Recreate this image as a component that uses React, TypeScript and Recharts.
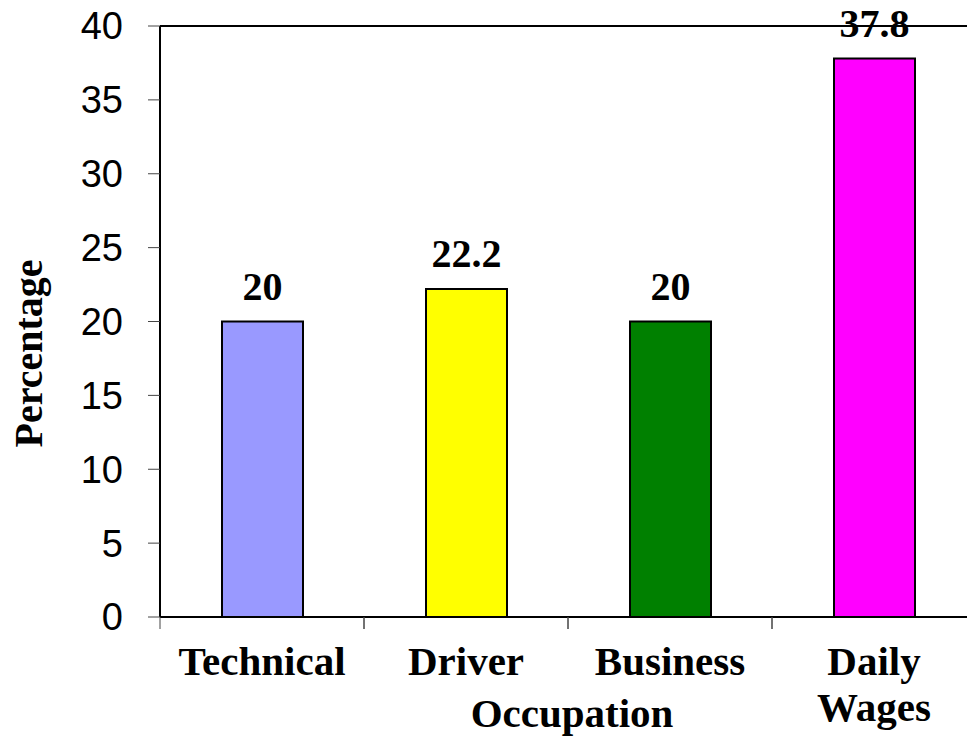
import React from "react";
import { BarChart, Bar, XAxis, YAxis, Cell, LabelList, Label } from "recharts";

const occupations = ["Technical", "Driver", "Business", "Daily Wages"];
const percentages = [20, 22.2, 20, 37.8];
const barColors = ["#9999FF", "#FFFF00", "#008000", "#FF00FF"];
const yTicks = [0, 5, 10, 15, 20, 25, 30, 35, 40];

const data = occupations.map((name, i) => ({ name, value: percentages[i] }));

const serif = "'Liberation Serif', 'Times New Roman', serif";
const sans = "'Liberation Sans', Arial, sans-serif";

const TICK_GAP = 30;
const EDGE_TICK = 12;

// category label (wrapped at spaces) plus tick marks on the category edges
const OccupationTick = ({
  x = 0,
  y = 0,
  payload,
}: {
  x?: number;
  y?: number;
  payload?: { value: string; offset?: number };
}) => {
  const lines = String(payload?.value ?? "").split(" ");
  const half = payload?.offset ?? 0;
  const axisY = y - TICK_GAP;
  return (
    <g>
      {[x - half, x + half].map((ex, i) => (
        <line key={i} x1={ex} x2={ex} y1={axisY} y2={axisY + EDGE_TICK} stroke="#444" strokeWidth={1} />
      ))}
      <text x={x} y={y} textAnchor="middle" fontFamily={serif} fontWeight="bold" fontSize={41} fill="#000">
        {lines.map((ln, i) => (
          <tspan key={i} x={x} dy={i === 0 ? 28 : 46}>
            {ln}
          </tspan>
        ))}
      </text>
    </g>
  );
};

export default function App() {
  return (
    <div
      style={{
        position: "absolute",
        left: 0,
        top: 0,
        width: 967,
        height: 738,
        overflow: "hidden",
        background: "#fff",
      }}
    >
      <BarChart
        width={990}
        height={738}
        data={data}
        margin={{ top: 25, right: 14, left: 0, bottom: 0 }}
      >
        <XAxis
          dataKey="name"
          height={121}
          axisLine={{ stroke: "#000", strokeWidth: 2 }}
          tickLine={false}
          tickSize={0}
          tickMargin={TICK_GAP}
          interval={0}
          tick={<OccupationTick />}
        >
          <Label
            content={({ viewBox }: any) => (
              <text
                x={viewBox.x + viewBox.width / 2 + 4}
                y={viewBox.y + 110}
                textAnchor="middle"
                fontFamily={serif}
                fontWeight="bold"
                fontSize={41}
                fill="#000"
              >
                Occupation
              </text>
            )}
          />
        </XAxis>
        <XAxis
          xAxisId="top"
          orientation="top"
          height={1}
          tick={false}
          tickLine={false}
          axisLine={{ stroke: "#000", strokeWidth: 2 }}
        />
        <YAxis
          width={160}
          domain={[0, 40]}
          ticks={yTicks}
          interval={0}
          tickSize={12}
          tickMargin={25}
          axisLine={{ stroke: "#000", strokeWidth: 2 }}
          tickLine={{ stroke: "#444", strokeWidth: 1 }}
          tick={{ fill: "#000", fontSize: 38, fontFamily: sans }}
        >
          <Label
            content={({ viewBox }: any) => {
              const cx = viewBox.x + 28;
              const cy = viewBox.y + viewBox.height / 2 + 32;
              return (
                <text
                  x={cx}
                  y={cy}
                  transform={`rotate(-90 ${cx} ${cy})`}
                  textAnchor="middle"
                  dominantBaseline="central"
                  fontFamily={serif}
                  fontWeight="bold"
                  fontSize={40}
                  fill="#000"
                >
                  Percentage
                </text>
              );
            }}
          />
        </YAxis>
        <Bar
          dataKey="value"
          barSize={81}
          stroke="#000"
          strokeWidth={2}
          isAnimationActive={false}
        >
          {data.map((d, i) => (
            <Cell key={d.name} fill={barColors[i]} />
          ))}
          <LabelList
            dataKey="value"
            position="top"
            offset={22}
            fill="#000"
            fontFamily={serif}
            fontWeight="bold"
            fontSize={40}
          />
        </Bar>
      </BarChart>
    </div>
  );
}
